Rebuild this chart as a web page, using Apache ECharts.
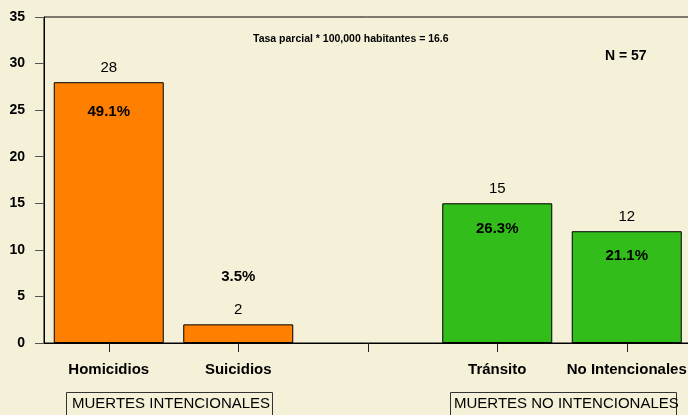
<!DOCTYPE html>
<html>
<head>
<meta charset="utf-8">
<script src="https://cdn.jsdelivr.net/npm/echarts@6/dist/echarts.min.js"></script>
<style>
html,body{margin:0;padding:0;background:#F4F1D8;}
#c{width:688px;height:415px;}
</style>
</head>
<body>
<div id="c"></div>
<script>
var categories = ['Homicidios', 'Suicidios', '', 'Tránsito', 'No Intencionales'];
var counts = [28, 2, null, 15, 12];
var percents = ['49.1%', '3.5%', '', '26.3%', '21.1%'];
var barColors = ['#FF8000', '#FF8000', '#FF8000', '#33BD1A', '#33BD1A'];
var yTicks = [0, 5, 10, 15, 20, 25, 30, 35];
var groupLabels = ['MUERTES INTENCIONALES', 'MUERTES NO INTENCIONALES'];
var subtitle = 'Tasa parcial * 100,000 habitantes = 16.6';
var nLabel = 'N = 57';

var chart = echarts.init(document.getElementById('c'), null, {renderer: 'canvas'});
var font = 'Liberation Sans, Arial, sans-serif';

// label placement styling per bar (percent labels)
var pctDistance = [22, 40, 0, 18, 17];

var barData = counts.map(function (v, i) {
  return {value: v, itemStyle: {color: barColors[i]}};
});
var pctData = counts.map(function (v, i) {
  var small = v !== null && v < 5;
  return {
    value: v,
    label: {
      show: v !== null,
      formatter: percents[i],
      position: small ? 'top' : 'insideTop',
      distance: pctDistance[i]
    }
  };
});

chart.setOption({
  backgroundColor: '#F4F1D8',
  animation: false,
  grid: {left: 44, width: 647.5, top: 17, bottom: 72, outerBoundsMode: 'none', containLabel: false, show: true, borderColor: '#000', borderWidth: 1, backgroundColor: 'transparent'},
  xAxis: {
    type: 'category',
    data: categories,
    axisLine: {lineStyle: {color: '#000', width: 1}},
    axisTick: {show: true, alignWithLabel: true, length: 9, lineStyle: {color: '#222'}},
    axisLabel: {interval: 0, margin: 19, fontFamily: font, fontWeight: 'bold', fontSize: 15, color: '#000'}
  },
  yAxis: {
    type: 'value',
    min: yTicks[0],
    max: yTicks[yTicks.length - 1],
    interval: 5,
    splitLine: {show: false},
    axisLine: {show: true, lineStyle: {color: '#000', width: 1}},
    axisTick: {show: true, length: 9, lineStyle: {color: '#555'}},
    axisLabel: {margin: 19, fontFamily: font, fontWeight: 'bold', fontSize: 14, color: '#000'}
  },
  series: [
    {
      type: 'bar',
      data: barData,
      barWidth: 110,
      itemStyle: {borderColor: '#000', borderWidth: 1},
      label: {show: true, position: 'top', distance: 7, fontFamily: font, fontSize: 15, color: '#000'}
    },
    {
      type: 'bar',
      data: pctData,
      barWidth: 110,
      barGap: '-100%',
      itemStyle: {color: 'transparent', borderWidth: 0},
      label: {fontFamily: font, fontSize: 15, fontWeight: 'bold', color: '#000'},
      silent: true,
      z: 5
    }
  ],
  graphic: [
    {type: 'text', left: 253, top: 34, style: {text: subtitle, font: 'bold 10.5px ' + font, fill: '#000'}},
    {type: 'text', left: 605, top: 49, style: {text: nLabel, font: 'bold 14px ' + font, fill: '#000'}},
    {type: 'rect', shape: {x: 66.5, y: 392.5, width: 206, height: 30}, style: {fill: 'transparent', stroke: '#333', lineWidth: 1}},
    {type: 'text', left: 72, top: 396, style: {text: groupLabels[0], font: '15px ' + font, fill: '#000'}},
    {type: 'rect', shape: {x: 450.5, y: 392.5, width: 226, height: 30}, style: {fill: 'transparent', stroke: '#333', lineWidth: 1}},
    {type: 'text', left: 454, top: 396, style: {text: groupLabels[1], font: '15px ' + font, fill: '#000'}}
  ]
});
</script>
</body>
</html>
